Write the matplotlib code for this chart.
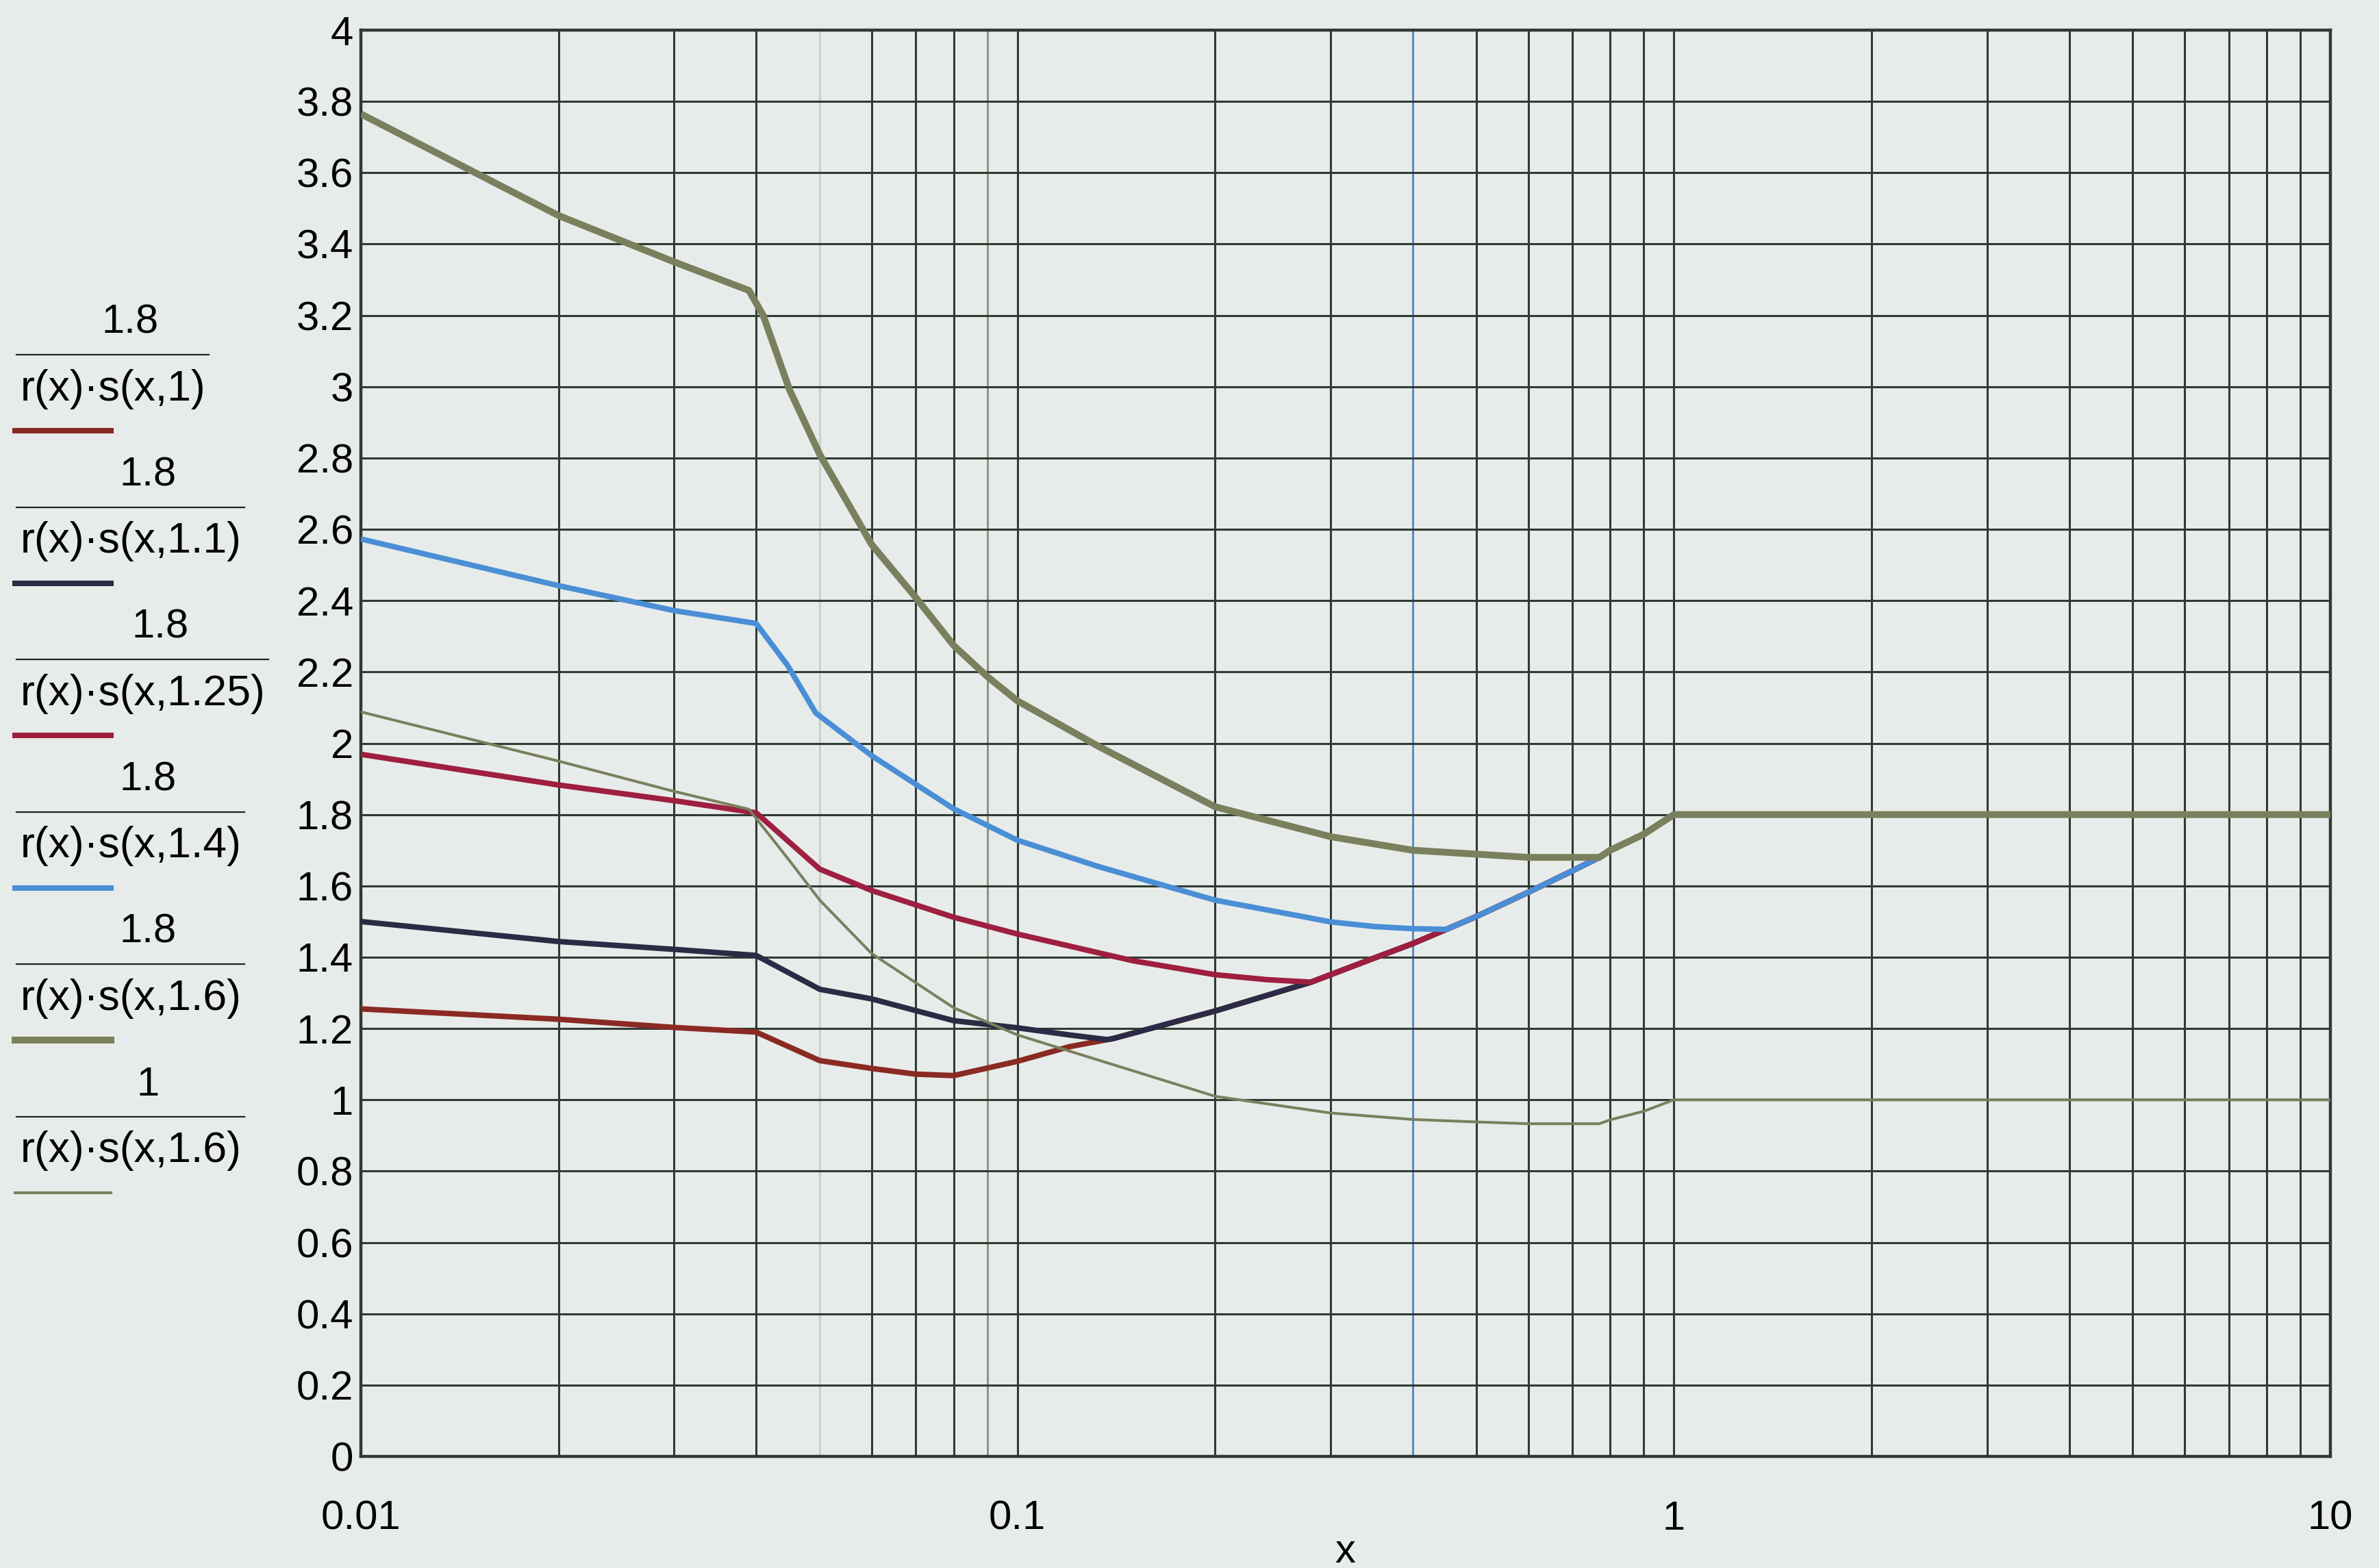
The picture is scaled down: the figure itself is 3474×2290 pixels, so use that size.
import matplotlib
matplotlib.use("Agg")
import matplotlib.pyplot as plt
from matplotlib.lines import Line2D

W, H = 3474, 2290
DPI = 100

# shared rising branch that every curve joins after its minimum
ENV_X = [0.08, 0.1, 0.12, 0.14, 0.2, 0.28, 0.3, 0.35, 0.4, 0.45, 0.5, 0.6, 0.7, 0.77, 0.8, 0.9, 1.0, 10.0]
ENV_Y = [1.068, 1.108, 1.149, 1.172, 1.249, 1.33, 1.351, 1.398, 1.438, 1.478, 1.514, 1.582, 1.642, 1.68, 1.70, 1.745, 1.80, 1.80]

# falling branches
K1_X = [0.01, 0.02, 0.03, 0.04, 0.05, 0.06, 0.07, 0.08]
K1_Y = [1.255, 1.226, 1.203, 1.19, 1.11, 1.088, 1.072, 1.068]

K11_X = [0.01, 0.02, 0.03, 0.04, 0.05, 0.06, 0.08, 0.1, 0.12, 0.137]
K11_Y = [1.50, 1.444, 1.422, 1.405, 1.31, 1.283, 1.222, 1.202, 1.182, 1.169]

K125_X = [0.01, 0.02, 0.03, 0.04, 0.05, 0.06, 0.08, 0.1, 0.15, 0.2, 0.24, 0.28]
K125_Y = [1.969, 1.883, 1.839, 1.805, 1.647, 1.587, 1.512, 1.465, 1.39, 1.351, 1.337, 1.33]

K14_X = [0.01, 0.02, 0.03, 0.04, 0.0446, 0.0493, 0.06, 0.08, 0.1, 0.133, 0.2, 0.27, 0.3, 0.35, 0.4, 0.45]
K14_Y = [2.573, 2.442, 2.372, 2.336, 2.22, 2.085, 1.965, 1.816, 1.728, 1.654, 1.56, 1.515, 1.499, 1.486, 1.48, 1.478]

K16_X = [0.01, 0.02, 0.03, 0.039, 0.041, 0.045, 0.05, 0.06, 0.07, 0.08, 0.09, 0.1, 0.133, 0.2, 0.3, 0.4, 0.5, 0.6, 0.7, 0.77]
K16_Y = [3.765, 3.48, 3.35, 3.27, 3.20, 2.99, 2.81, 2.557, 2.409, 2.274, 2.187, 2.119, 1.991, 1.822, 1.738, 1.70, 1.689, 1.68, 1.68, 1.68]

ONE16_X = [0.01, 0.02, 0.03, 0.039, 0.045, 0.05, 0.06, 0.08, 0.1, 0.2, 0.3, 0.4, 0.5, 0.6, 0.7, 0.77, 0.8, 0.9, 1.0, 10.0]
ONE16_Y = [2.088, 1.95, 1.865, 1.815, 1.67, 1.56, 1.41, 1.258, 1.182, 1.01, 0.963, 0.945, 0.938, 0.933, 0.933, 0.933, 0.944, 0.968, 1.0, 1.0]

LEGEND_NUM = ["1.8", "1.8", "1.8", "1.8", "1.8", "1"]
LEGEND_DEN = ["r(x)·s(x,1)", "r(x)·s(x,1.1)", "r(x)·s(x,1.25)", "r(x)·s(x,1.4)", "r(x)·s(x,1.6)", "r(x)·s(x,1.6)"]

X_TICKS = [0.01, 0.1, 1, 10]
X_LABELS = ["0.01", "0.1", "1", "10"]
Y_TICKS = [i * 0.2 for i in range(21)]

BG = "#e7ecea"
GRID = "#2f3a33"
COLORS = ["#8a2a22", "#2b2b45", "#9e1f40", "#4a8ed6", "#7a7f5e", "#7a7f5e"]
WIDTHS = [5.8, 5.8, 5.8, 5.8, 7.2, 2.9]

plt.rcParams["font.family"] = ["Liberation Sans", "DejaVu Sans"]


def with_env(xs, ys):
    last = xs[-1]
    ex = [x for x in ENV_X if x > last]
    ey = [y for x, y in zip(ENV_X, ENV_Y) if x > last]
    return xs + ex, ys + ey


def fx(px):
    return px / W


def fy(py):
    return 1 - py / H


def main():
    fig = plt.figure(figsize=(W / DPI, H / DPI), dpi=DPI, facecolor=BG)
    ax = fig.add_axes([fx(527), fy(2127), (3403 - 527) / W, (2127 - 44) / H])
    ax.set_facecolor(BG)
    ax.set_xscale("log")
    ax.set_xlim(0.01, 10)
    ax.set_ylim(0, 4)

    # grid drawn by hand, a few scanned lines look lighter / bluish
    special = {0.05: "#c9d0ca", 0.09: "#8e9582", 0.4: "#5f8cba"}
    for dec in [0.01, 0.1, 1.0]:
        for m in range(1, 10):
            v = round(m * dec, 4)
            ax.axvline(v, color=special.get(v, GRID), lw=2.2, zorder=1)
    for v in Y_TICKS:
        ax.axhline(v, color=GRID, lw=2.2, zorder=1)

    series = [
        with_env(K1_X, K1_Y),
        with_env(K11_X, K11_Y),
        with_env(K125_X, K125_Y),
        with_env(K14_X, K14_Y),
        with_env(K16_X, K16_Y),
        (ONE16_X, ONE16_Y),
    ]
    for i, (xs, ys) in enumerate(series):
        ax.plot(xs, ys, color=COLORS[i], lw=WIDTHS[i], zorder=3 + i,
                solid_joinstyle="round", solid_capstyle="butt")

    for s in ax.spines.values():
        s.set_color(GRID)
        s.set_linewidth(3.2)

    ax.set_xticks(X_TICKS)
    ax.set_xticklabels(X_LABELS)
    ax.xaxis.set_minor_locator(plt.NullLocator())
    ax.set_yticks(Y_TICKS)
    ax.set_yticklabels([f"{v:g}" for v in [round(t, 1) for t in Y_TICKS]])
    ax.tick_params(axis="both", length=0, labelsize=43, colors="black")
    ax.tick_params(axis="x", pad=46)
    ax.tick_params(axis="y", pad=8)

    fig.text(fx(1964), fy(2282), "x", fontsize=43, ha="center", va="baseline")

    # Mathcad style legend: fraction labels with a line sample under each
    fig.canvas.draw()
    renderer = fig.canvas.get_renderer()
    step = 222.6
    for i in range(6):
        den = fig.text(fx(30), fy(568 + i * step), LEGEND_DEN[i], fontsize=45,
                       ha="left", va="center")
        bb = den.get_window_extent(renderer)
        right = bb.x1 + 4
        bar_y = fy(518 + i * step)
        fig.add_artist(Line2D([fx(24), right / W], [bar_y, bar_y], color="#222222", lw=1.6))
        fig.text((fx(24) + right / W) / 2 + fx(26), fy(471 + i * step), LEGEND_NUM[i],
                 fontsize=43, ha="center", va="center")
        ly = fy(629 + i * step)
        fig.add_artist(Line2D([fx(22), fx(162)], [ly, ly], color=COLORS[i], lw=WIDTHS[i]))

    fig.savefig("out.png", dpi=DPI, facecolor=BG)


if __name__ == "__main__":
    main()
